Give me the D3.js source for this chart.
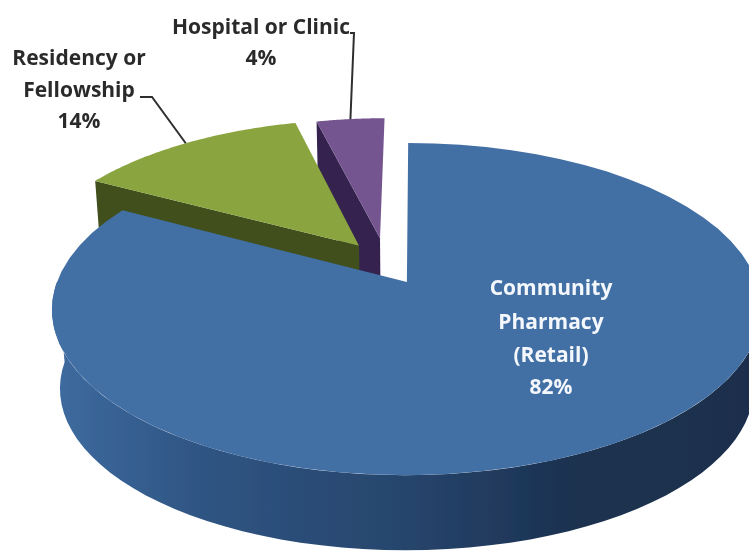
<!DOCTYPE html>
<html>
<head>
<meta charset="utf-8">
<script src="https://cdn.jsdelivr.net/npm/d3@7"></script>
<style>
  html, body { margin: 0; padding: 0; background: #fff; overflow: hidden; }
  svg { display: block; }
  text { font-family: "Open Sans", Lato, sans-serif; font-weight: 700; font-size: 21px; text-anchor: middle; }
</style>
</head>
<body>
<svg id="chart" width="749" height="552"></svg>
<script>
  // values
  const categories = ["Community Pharmacy (Retail)", "Residency or Fellowship", "Hospital or Clinic"];
  const shares = [82, 14, 4];
  const shareLabels = ["82%", "14%", "4%"];

  // how each slice is pulled away from the centre of the disc (disc units), and its radius
  const explodeU = [-0.026, -0.169, -0.1076];
  const explodeV = [0, -0.232, -0.283];
  const radiusOf = [1, 0.97, 0.93];

  const topColors = ["#436fa5", "#8aa53f", "#745590"];
  const faceColors = ["#2a4a72", "#3f4f1a", "#35244f"];

  const width = 749, height = 552;
  const cx = 416, cy = 282, discW = 350, discH = 161.7;
  const persp = 0.163, depth = 80, shrink = 0.022;
  // the 3D view in the original bends the blue/green edge a little past its true angle
  const edgeNudge = 3.4 * Math.PI / 180;

  const svg = d3.select("#chart");
  const defs = svg.append("defs");

  defs.append("filter").attr("id", "soft")
    .attr("x", "-5%").attr("y", "-5%").attr("width", "110%").attr("height", "110%")
    .append("feGaussianBlur").attr("stdDeviation", 0.7);

  defs.append("filter").attr("id", "soft2")
    .attr("x", "-5%").attr("y", "-5%").attr("width", "110%").attr("height", "110%")
    .append("feGaussianBlur").attr("stdDeviation", 0.35);

  const wallGrad = defs.append("linearGradient").attr("id", "blue-wall")
    .attr("gradientUnits", "userSpaceOnUse")
    .attr("x1", 60).attr("x2", 749).attr("y1", 0).attr("y2", 0);
  wallGrad.selectAll("stop")
    .data([
      {offset: "0%", color: "#3d6a9e"},
      {offset: "20%", color: "#2f5583"},
      {offset: "50%", color: "#27456c"},
      {offset: "75%", color: "#1b3150"},
      {offset: "100%", color: "#1a2f4c"}
    ])
    .enter().append("stop")
    .attr("offset", d => d.offset)
    .attr("stop-color", d => d.color);

  // disc coordinates -> screen, z = 0 top surface, z = 1 bottom surface
  function project(u, v, z) {
    const s = 1 / (1 - persp * v + shrink * z);
    return [cx + discW * u * s, cy + discH * v * s + depth * z];
  }

  function rimPoint(i, a, z) {
    return project(
      explodeU[i] + radiusOf[i] * Math.sin(a),
      explodeV[i] - radiusOf[i] * Math.cos(a),
      z
    );
  }

  function rim(i, a0, a1, z) {
    return d3.range(0, 61).map(k => rimPoint(i, a0 + (a1 - a0) * k / 60, z));
  }

  const line = d3.line();
  const closed = pts => line(pts) + "Z";

  const arcs = d3.pie().sort(null).value(d => d)(shares);
  arcs[0].endAngle += edgeNudge;
  arcs[1].startAngle += edgeNudge;

  const plot = svg.append("g").attr("filter", "url(#soft)");

  // back slices first, the big one covers them
  [2, 1, 0].forEach(i => {
    const d = arcs[i];
    const g = plot.append("g");
    const apexTop = project(explodeU[i], explodeV[i], 0);
    const apexBot = project(explodeU[i], explodeV[i], 1);

    if (i > 0) {
      // cut face along the start edge
      g.append("path")
        .attr("d", closed([apexTop, rimPoint(i, d.startAngle, 0), rimPoint(i, d.startAngle, 1), apexBot]))
        .attr("fill", faceColors[i]);
    } else {
      // outer wall, only the part that faces us
      const a0 = Math.PI / 2, a1 = Math.PI * 1.5;
      g.append("path")
        .attr("d", closed(rim(i, a0, a1, 0).concat(rim(i, a1, a0, 1))))
        .attr("fill", "url(#blue-wall)");
    }

    g.append("path")
      .attr("d", closed([apexTop].concat(rim(i, d.startAngle, d.endAngle, 0))))
      .attr("fill", topColors[i]);
  });

  // leader lines end on the middle of the slice's rim
  const midRim = i => rimPoint(i, (arcs[i].startAngle + arcs[i].endAngle) / 2, 0);
  const leaders = [
    {slice: 1, via: [[152, 97], [140, 97]]},
    {slice: 2, via: [[354, 33], [350, 33]]}
  ];
  plot.selectAll(".leader")
    .data(leaders)
    .enter().append("path")
    .attr("class", "leader")
    .attr("d", d => line([midRim(d.slice)].concat(d.via)))
    .attr("fill", "none")
    .attr("stroke", "#2f2f2f")
    .attr("stroke-width", 2);

  const labels = [
    {x: 551, color: "#f4f7fb", lines: ["Community", "Pharmacy", "(Retail)", shareLabels[0]], ys: [295, 329, 362, 394]},
    {x: 79, color: "#2b2b2b", lines: ["Residency or", "Fellowship", shareLabels[1]], ys: [65, 97, 128]},
    {x: 261, color: "#2b2b2b", lines: ["Hospital or Clinic", shareLabels[2]], ys: [34, 65]}
  ];
  const textLayer = svg.append("g").attr("filter", "url(#soft2)");

  labels.forEach(l => {
    textLayer.selectAll(null)
      .data(l.lines)
      .enter().append("text")
      .attr("x", l.x)
      .attr("y", (d, k) => l.ys[k])
      .attr("fill", l.color)
      .text(d => d);
  });
</script>
</body>
</html>
